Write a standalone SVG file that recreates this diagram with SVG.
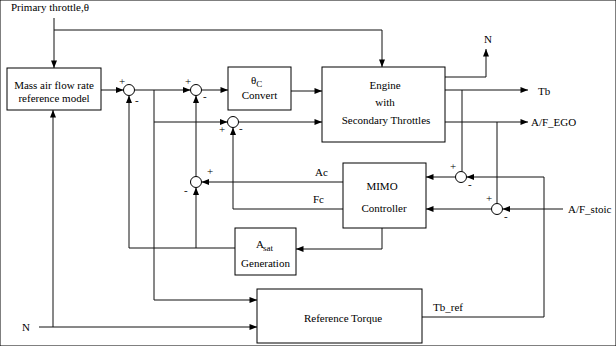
<svg xmlns="http://www.w3.org/2000/svg" width="616" height="346" viewBox="0 0 616 346" font-family="'Liberation Serif', 'DejaVu Serif', serif">
<defs>
<marker id="ah" viewBox="0 0 10 8" refX="10" refY="4" markerWidth="9" markerHeight="6" markerUnits="userSpaceOnUse" orient="auto">
<path d="M0,0 L10,4 L0,8 z" fill="#000"/>
</marker>
</defs>
<style>
text{font-family:'Liberation Serif','DejaVu Serif',serif;font-size:11px;fill:#000}
.c{text-anchor:middle}
.s{font-size:9px}
rect{fill:#fff;stroke:#000;stroke-width:1}
circle{fill:#fff;stroke:#000;stroke-width:1}
#wires path{fill:none;stroke:#111;stroke-width:1}
.a{marker-end:url(#ah)}
</style>
<rect width="616" height="346" fill="#fff" stroke="none"/>
<text x="11" y="11">Primary throttle,θ</text>
<g id="wires">
<path class="a" d="M54,18 V68"/>
<path class="a" d="M54,30 H382 V67"/>
<path class="a" d="M101,90 H123.5"/>
<path class="a" d="M134.5,90 H190.5"/>
<path class="a" d="M154,90 V300 H257"/>
<path class="a" d="M154,122 H227.5"/>
<path class="a" d="M201.5,90 H228"/>
<path class="a" d="M291,91 H322"/>
<path class="a" d="M238.5,122 H322"/>
<path class="a" d="M343,182 H201.5"/>
<path class="a" d="M196,176.5 V95.5"/>
<path class="a" d="M343,209 H233 V127.5"/>
<path class="a" d="M235,248 H129 V95.5"/>
<path class="a" d="M196,248 V187.5"/>
<path class="a" d="M382,228 V249 H296"/>
<path class="a" d="M445,77 H486 V49"/>
<path class="a" d="M445,90 H528"/>
<path d="M462,90 V171.5"/>
<path class="a" d="M445,122 H528"/>
<path d="M497,122 V203.5"/>
<path class="a" d="M455.5,177 H426"/>
<path class="a" d="M491.5,209 H426"/>
<path class="a" d="M422,317 H544 V177 H466.5"/>
<path class="a" d="M563,209 H502.5"/>
<path class="a" d="M39,327 H257"/>
<path class="a" d="M53,327 V110"/>
</g>
<g id="massair">
<rect x="7" y="68" width="94" height="42"/>
<text class="c" x="54" y="89">Mass air flow rate</text>
<text class="c" x="54" y="102">reference model</text>
</g>
<g id="sum1"><circle cx="129" cy="90" r="5.5"/><text x="119" y="85">+</text><text x="135" y="104">-</text></g>
<g id="sum2"><circle cx="196" cy="90" r="5.5"/><text x="185" y="85">+</text><text x="203" y="100">-</text></g>
<g id="sum3"><circle cx="196" cy="182" r="5.5"/><text x="207" y="175">+</text><text x="184" y="194">-</text></g>
<g id="sum4"><circle cx="233" cy="122" r="5.5"/><text x="219" y="133">+</text><text x="239" y="132">-</text></g>
<g id="sum5"><circle cx="461" cy="177" r="5.5"/><text x="450" y="170">+</text><text x="468" y="188">-</text></g>
<g id="sum6"><circle cx="497" cy="209" r="5.5"/><text x="486" y="202">+</text><text x="504" y="220">-</text></g>
<g id="convert">
<rect x="228" y="67" width="63" height="43"/>
<text x="251" y="84">θ<tspan class="s" dy="3">C</tspan></text>
<text class="c" x="259.5" y="99">Convert</text>
</g>
<g id="engine">
<rect x="322" y="67" width="123" height="75"/>
<text class="c" x="385" y="89">Engine</text>
<text class="c" x="385" y="106">with</text>
<text class="c" x="386" y="124">Secondary Throttles</text>
</g>
<g id="mimo">
<rect x="343" y="163" width="83" height="65"/>
<text class="c" x="382" y="190">MIMO</text>
<text class="c" x="384" y="212">Controller</text>
</g>
<g id="asat">
<rect x="235" y="228" width="61" height="47"/>
<text x="256" y="248">A<tspan class="s" dx="-1" dy="3">sat</tspan></text>
<text class="c" x="265.5" y="267">Generation</text>
</g>
<g id="reftorque">
<rect x="257" y="289" width="165" height="54"/>
<text class="c" x="343" y="322">Reference Torque</text>
</g>
<text x="484" y="43">N</text>
<text x="538" y="95">Tb</text>
<text x="531" y="126">A/F_EGO</text>
<text x="568" y="213">A/F_stoic</text>
<text x="315" y="176">Ac</text>
<text x="313" y="203">Fc</text>
<text x="433" y="311">Tb_ref</text>
<text x="22" y="331">N</text>
</svg>
